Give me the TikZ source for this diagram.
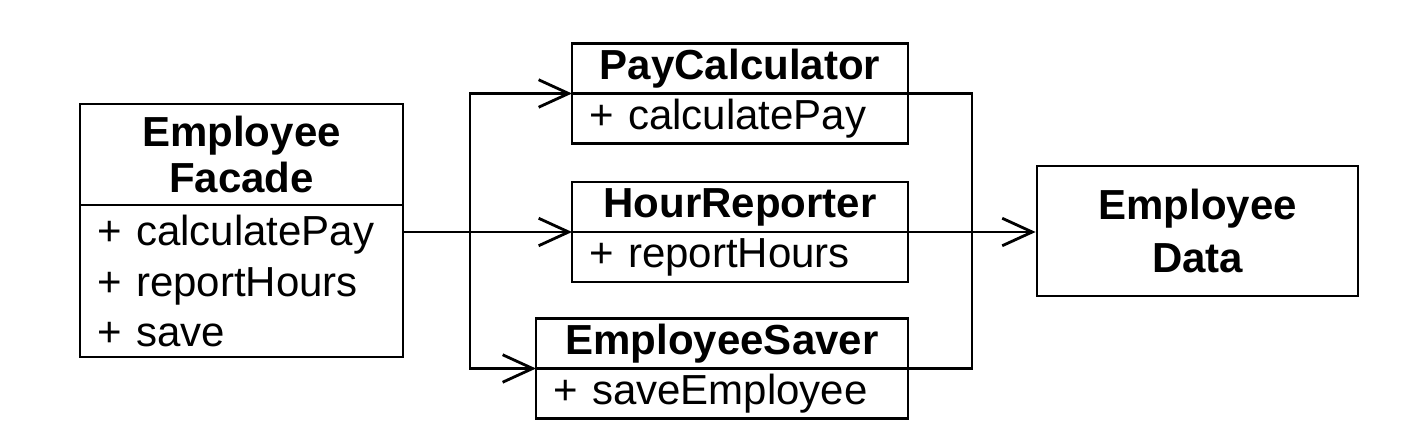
\documentclass[tikz,border=0pt]{standalone}
\usepackage{fontspec}
\setmainfont{Liberation Sans}
\usetikzlibrary{arrows.meta}
\usetikzlibrary{positioning}

\begin{document}
\begin{tikzpicture}[
  line width=1.6pt,
  head/.style={draw, font=\bfseries\fontsize{23.9}{26}\selectfont, align=center, inner xsep=0pt, inner ysep=0pt, outer sep=0pt, text width=#1, minimum height=1cm},
  ops/.style={draw, font=\fontsize{23.9}{29}\selectfont, align=left, inner xsep=0.35cm, inner ysep=0pt, outer sep=0pt, text width=#1, minimum height=1cm},
  arr/.style={-{Straight Barb[length=0.6cm,width=0.55cm]}}
]

\useasboundingbox (0,0) rectangle (28.3,-8.46);

% facade
\node[head=6.46cm, minimum height=2.02cm] (facadeT) at (4.83,-3.09) {Employee\\Facade};
\node[ops=5.76cm, minimum height=3.04cm, below=0pt of facadeT] (facadeB) {+ calculatePay\\+ reportHours\\+ save};

% the three classes
\node[head=6.72cm] (payT) at (14.8,-1.37) {PayCalculator};
\node[ops=6.02cm, below=0pt of payT] (payB) {+ calculatePay};

\node[head=6.72cm] (hourT) at (14.8,-4.14) {HourReporter};
\node[ops=6.02cm, below=0pt of hourT] (hourB) {+ reportHours};

\node[head=7.44cm] (saverT) at (14.44,-6.87) {EmployeeSaver};
\node[ops=6.74cm, below=0pt of saverT] (saverB) {+ saveEmployee};

% data
\node[draw, font=\bfseries\fontsize{23.9}{30}\selectfont, align=center, minimum width=6.42cm, minimum height=2.6cm] (data) at (23.95,-4.62) {Employee\\Data};

\coordinate (fork) at (9.4,0);
\coordinate (join) at (19.44,0);

\draw[arr] (facadeB.east |- hourT.south) -- (hourT.south west);
\draw[arr] (fork |- hourT.south) |- (payT.south west);
\draw[arr] (fork |- hourT.south) |- (saverT.south west);

\draw (payT.south east) -| (join |- saverT.south) -- (saverT.south east);
\draw[arr] (hourT.south east) -- (data.west |- hourT.south);

\end{tikzpicture}
\end{document}
